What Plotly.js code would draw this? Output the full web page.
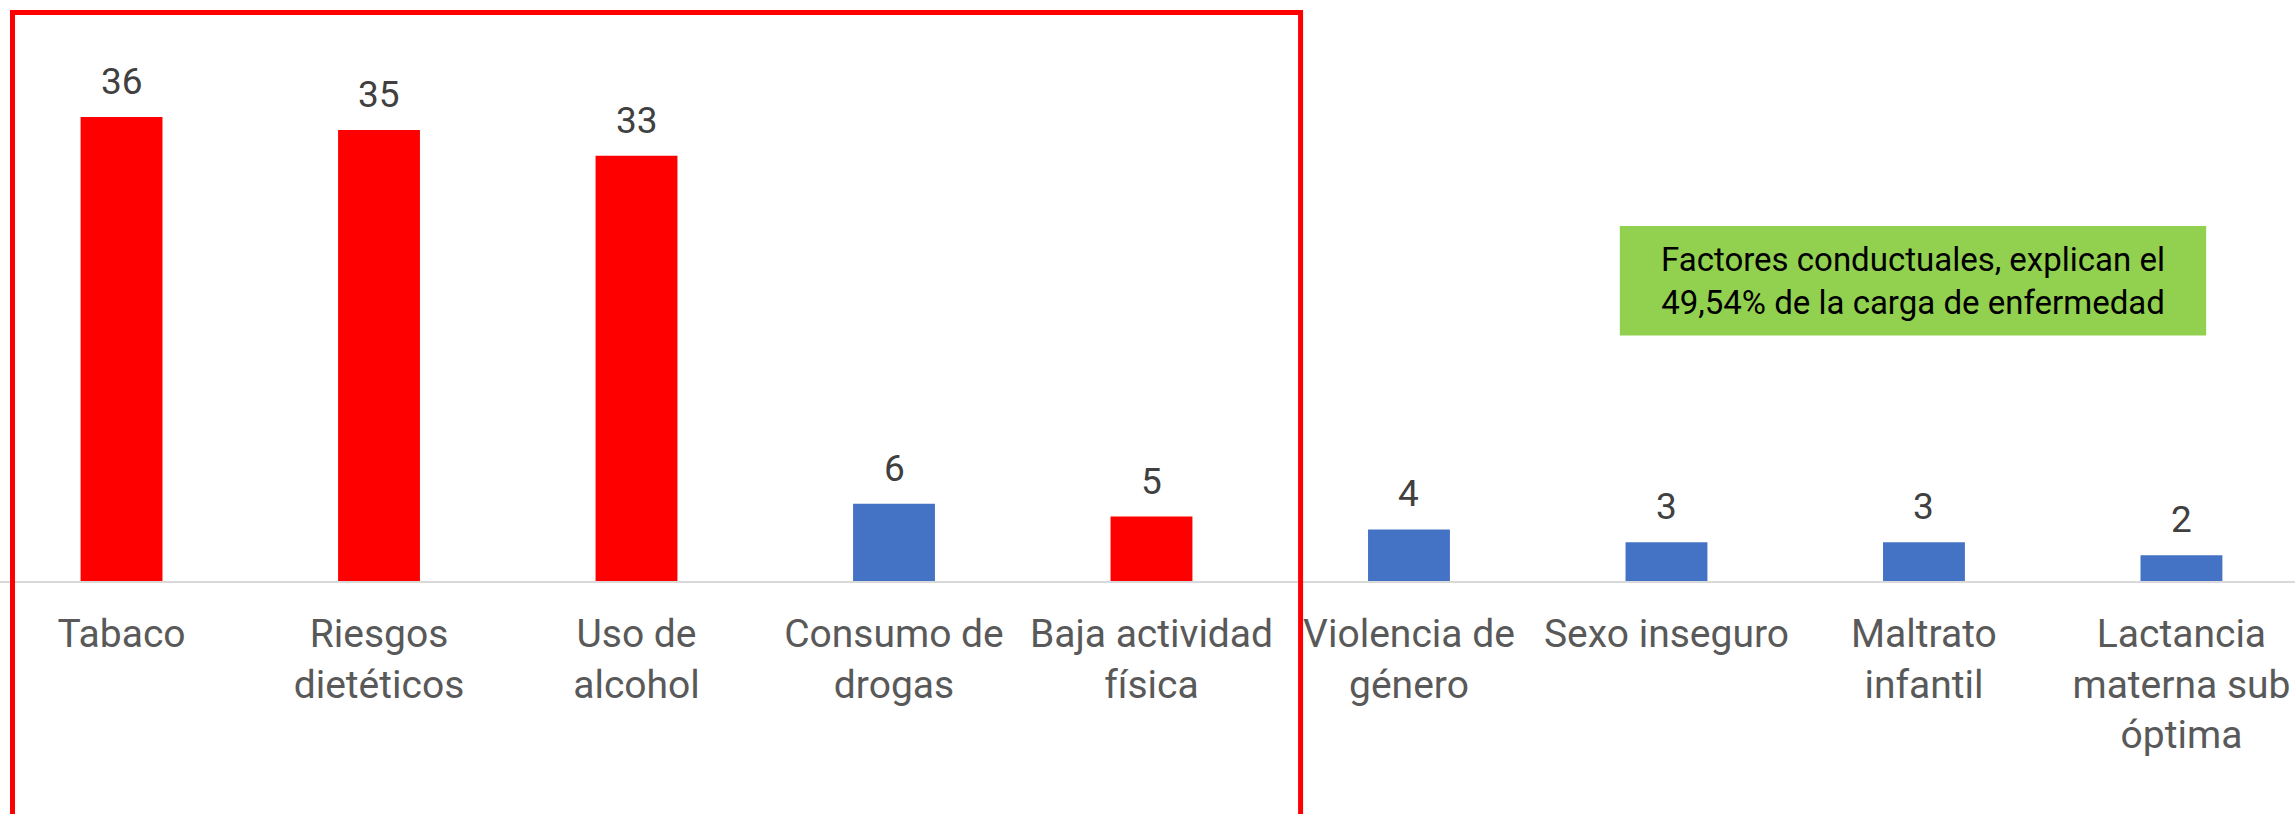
<!DOCTYPE html>
<html>
<head>
<meta charset="utf-8">
<script src="https://cdn.plot.ly/plotly-3.0.1.min.js"></script>
<style>html,body{margin:0;padding:0;background:#fff;}#chart{width:2295px;height:814px;}</style>
</head>
<body>
<div id="chart"></div>
<script>
const categories = ["Tabaco","Riesgos dietéticos","Uso de alcohol","Consumo de drogas","Baja actividad física","Violencia de género","Sexo inseguro","Maltrato infantil","Lactancia materna sub óptima"];
const tickLabels = ["Tabaco","Riesgos<br>dietéticos","Uso de<br>alcohol","Consumo de<br>drogas","Baja actividad<br>física","Violencia de<br>género","Sexo inseguro","Maltrato<br>infantil","Lactancia<br>materna sub<br>óptima"];
const values = [36, 35, 33, 6, 5, 4, 3, 3, 2];
const barColors = ["#FF0000","#FF0000","#FF0000","#4472C4","#FF0000","#4472C4","#4472C4","#4472C4","#4472C4"];
const boxText = "Factores conductuales, explican el<br>49,54% de la carga de enfermedad";

const FONT = "Roboto, 'Open Sans', sans-serif";

const trace = {
  type: "bar",
  x: categories,
  y: values,
  marker: {color: barColors, line: {width: 0}},
  hoverinfo: "none"
};

const labelAnns = categories.map((c, i) => ({
  x: c, y: values[i], xref: "x", yref: "y",
  text: String(values[i]), showarrow: false,
  yanchor: "bottom", yshift: 12,
  font: {family: FONT, size: 37, color: "#404040"}
}));

const layout = {
  width: 2295, height: 814,
  margin: {l: 0, r: 0, t: 0, b: 233, pad: 0},
  paper_bgcolor: "#ffffff", plot_bgcolor: "#ffffff",
  showlegend: false,
  bargap: 0.682,
  font: {family: FONT},
  xaxis: {
    type: "category",
    range: [-0.472, 8.441],
    tickmode: "array", tickvals: categories, ticktext: tickLabels,
    ticks: "", showgrid: false, zeroline: false,
    showline: true, linecolor: "#D9D9D9", linewidth: 2,
    tickfont: {family: FONT, size: 39, color: "#595959"},
    tickangle: 0, ticklabelstandoff: 17, automargin: false
  },
  yaxis: {
    range: [0, 45.08], visible: false, showgrid: false, zeroline: false, fixedrange: true
  },
  shapes: [
    {type: "rect", xref: "paper", yref: "paper", x0: 0.00545, x1: 0.5667, y0: -0.6, y1: 0.9785,
     line: {color: "#FF0000", width: 5}, fillcolor: "rgba(0,0,0,0)", layer: "above"},
    {type: "rect", xref: "paper", yref: "paper", x0: 0.7058, x1: 0.9613, y0: 0.4227, y1: 0.6112,
     line: {width: 0}, fillcolor: "#92D050", layer: "below"}
  ],
  annotations: labelAnns.concat([
    {xref: "paper", yref: "paper", x: 0.8336, y: 0.517, xanchor: "center", yanchor: "middle",
     text: boxText, showarrow: false, align: "center",
     font: {family: FONT, size: 33, color: "#000000"}}
  ])
};

Plotly.newPlot("chart", [trace], layout, {staticPlot: true, displayModeBar: false});
</script>
</body>
</html>
